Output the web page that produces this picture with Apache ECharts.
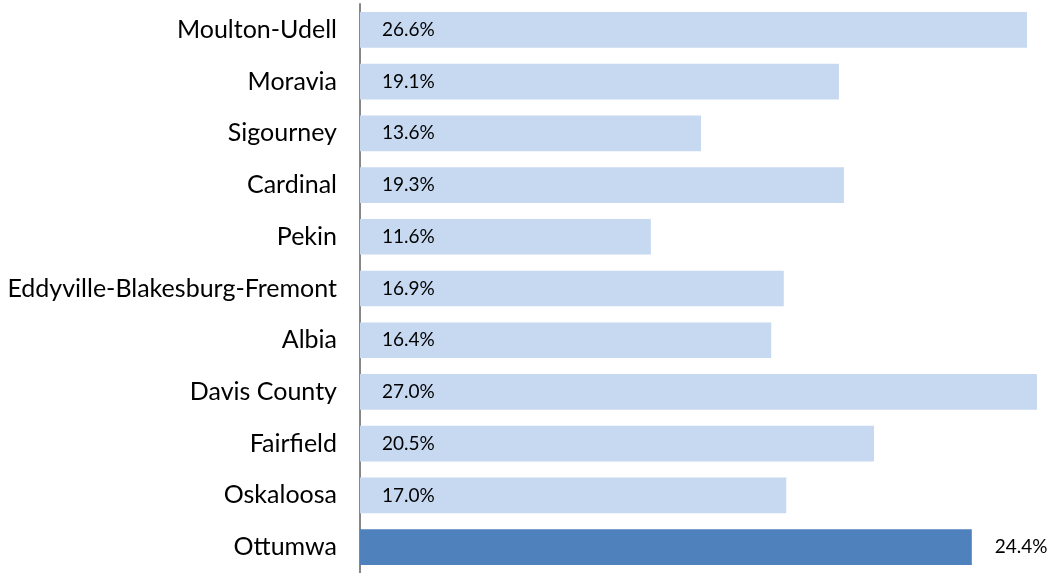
<!DOCTYPE html>
<html>
<head>
<meta charset="utf-8">
<script src="https://cdn.jsdelivr.net/npm/echarts@6/dist/echarts.min.js"></script>
<style>
  html, body { margin: 0; padding: 0; background: #fff; }
  #chart { width: 1052px; height: 573px; }
</style>
</head>
<body>
<div id="chart"></div>
<script>
// districts, top to bottom
var districts = ["Moulton-Udell", "Moravia", "Sigourney", "Cardinal", "Pekin",
  "Eddyville-Blakesburg-Fremont", "Albia", "Davis County", "Fairfield", "Oskaloosa", "Ottumwa"];
var percents = [26.6, 19.1, 13.6, 19.3, 11.6, 16.9, 16.4, 27.0, 20.5, 17.0, 24.4];
var highlight = "Ottumwa";

var chart = echarts.init(document.getElementById("chart"));

var barData = districts.map(function (name, i) {
  var isHi = name === highlight;
  return {
    value: percents[i],
    itemStyle: { color: isHi ? "#4F81BD" : "#C6D9F1" },
    label: isHi
      ? { position: "right", distance: 23 }
      : { position: "insideLeft", distance: 22 }
  };
});

chart.setOption({
  animation: false,
  textStyle: { fontFamily: "Lato" },
  grid: { left: 360, right: 15, top: 4, height: 574, containLabel: false },
  xAxis: {
    type: "value",
    min: 0,
    max: 27,
    show: false
  },
  yAxis: {
    type: "category",
    inverse: true,
    data: districts,
    axisLine: { show: true, lineStyle: { color: "#868686", width: 2 } },
    axisTick: { show: false },
    axisLabel: { color: "#000", fontSize: 25, margin: 23, fontFamily: "Lato" }
  },
  series: [{
    type: "bar",
    data: barData,
    barCategoryGap: "31%",
    label: {
      show: true,
      color: "#000",
      fontSize: 19,
      fontFamily: "Lato",
      formatter: function (p) { return p.value.toFixed(1) + "%"; }
    }
  }]
});
</script>
</body>
</html>
